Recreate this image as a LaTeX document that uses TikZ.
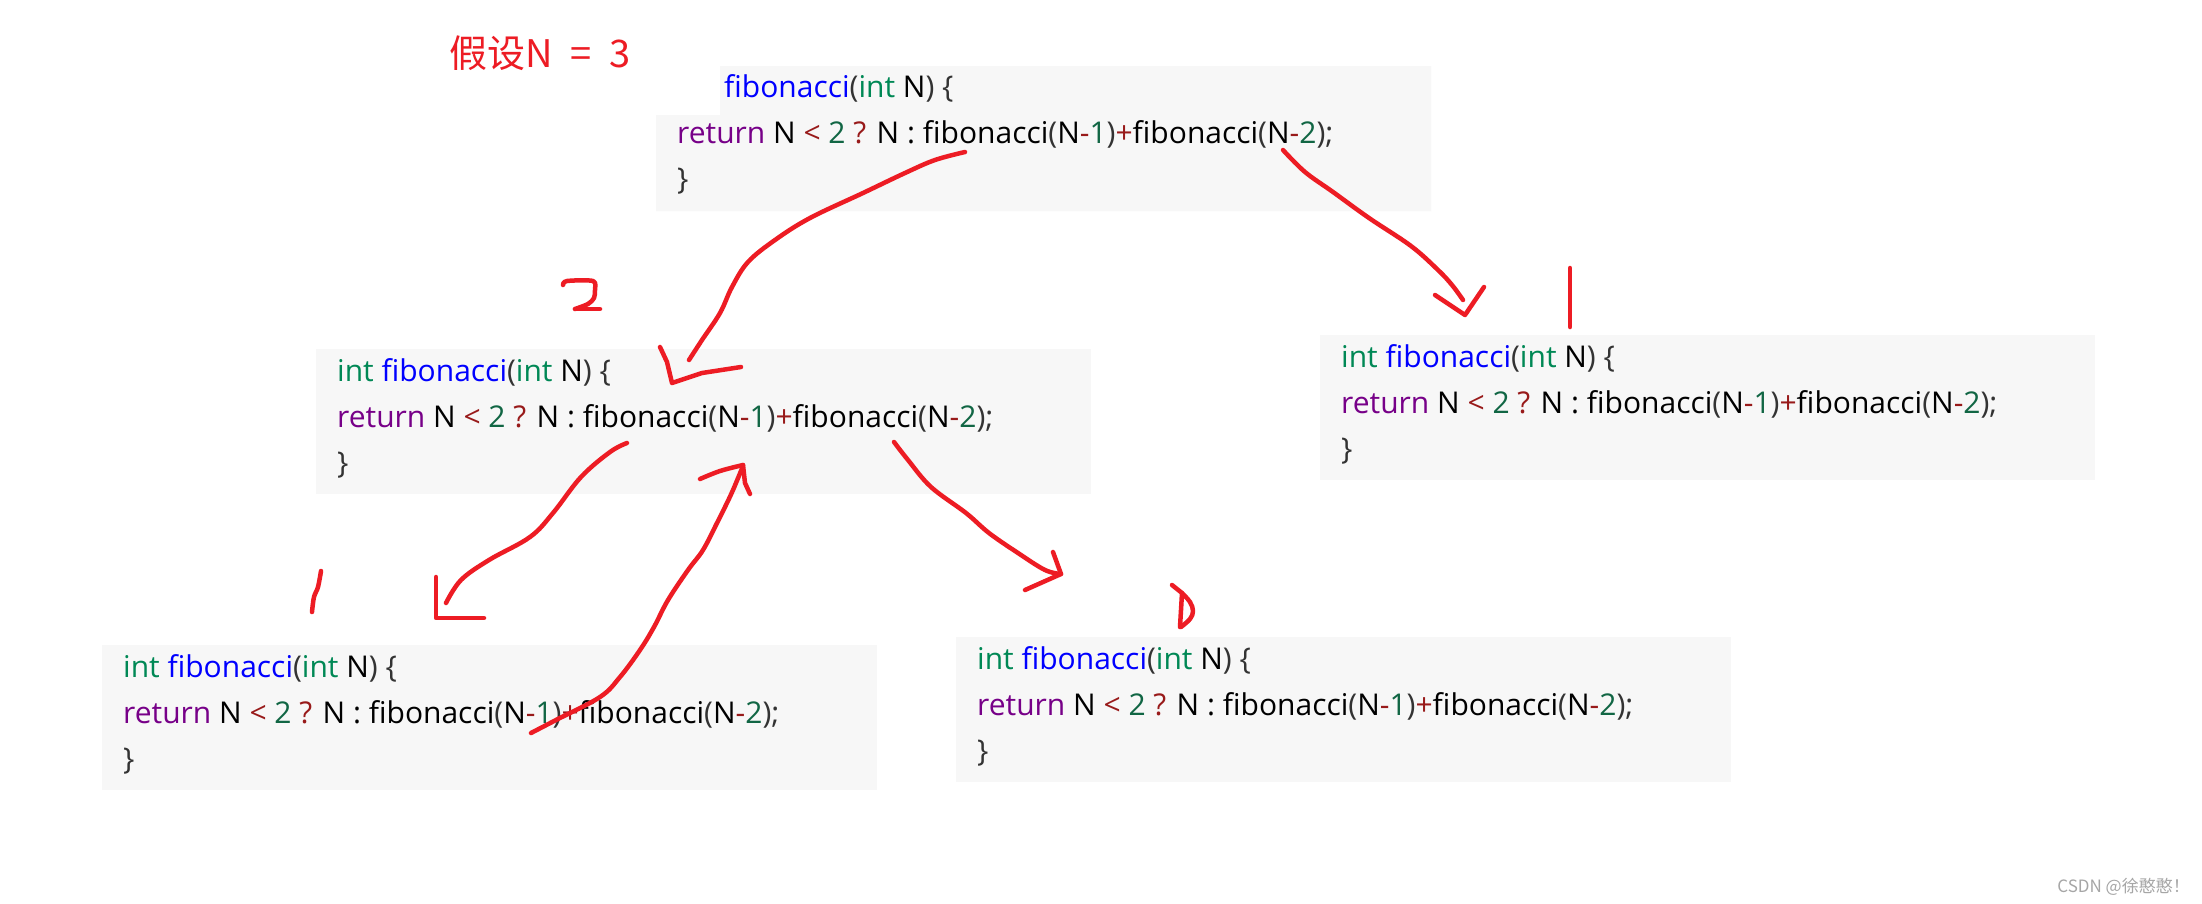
\documentclass[tikz,border=0pt]{standalone}
\usepackage{fontspec}
\setmainfont{Open Sans}
\newfontfamily\cjk{Noto Sans CJK SC}
\usepackage{tikz}
\definecolor{codebg}{RGB}{247,247,247}
\definecolor{typegreen}{RGB}{0,136,85}
\definecolor{defblue}{RGB}{0,0,255}
\definecolor{kwpurple}{RGB}{119,0,136}
\definecolor{oprred}{RGB}{152,26,26}
\definecolor{numgreen}{RGB}{17,102,68}
\definecolor{brk}{RGB}{51,51,51}
\definecolor{penred}{RGB}{237,28,36}
\newcommand{\fibdecl}{\textcolor{typegreen}{int} \textcolor{defblue}{fibonacci}\textcolor{brk}{(}\textcolor{typegreen}{int} N\textcolor{brk}{) \{}}
\newcommand{\fibret}{\textcolor{kwpurple}{return} N \textcolor{oprred}{<} \textcolor{numgreen}{2} \textcolor{oprred}{?} N : fibonacci\textcolor{brk}{(}N\textcolor{oprred}{-}\textcolor{numgreen}{1}\textcolor{brk}{)}\textcolor{oprred}{+}fibonacci\textcolor{brk}{(}N\textcolor{oprred}{-}\textcolor{numgreen}{2}\textcolor{brk}{);}}
\tikzset{redpen/.style={draw=penred,line width=4.5pt,line cap=round,line join=round},
codeline/.style={anchor=base west,inner sep=0pt,font=\fontsize{30}{36}\selectfont}}

\begin{document}
\begin{tikzpicture}[x=1pt,y=-1pt]
\useasboundingbox (0,0) rectangle (2202,903);
\fill[white](0,0) rectangle (2202,903);
\node[anchor=base west,inner sep=0pt,text=penred,font=\cjk\fontsize{38}{38}\selectfont] (title) at (449,67) {假设N\hspace{18pt}=\hspace{18pt}3};
% top call
\fill[codebg] (720,66)--(1431,66)--(1431,211)--(656,211)--(656,115)--(720,115)--cycle;
\node[codeline] (topdecl) at (724,97) {\textcolor{defblue}{fibonacci}\textcolor{brk}{(}\textcolor{typegreen}{int} N\textcolor{brk}{) \{}};
\node[codeline] (topret) at (677,143) {\fibret};
\node[codeline] (topend) at (677,189) {\textcolor{brk}{\}}};
% the other calls
\foreach \bx/\by/\bn in {316/349/two,1320/335/three,102/645/four,956/637/five}{
\fill[codebg] (\bx,\by) rectangle +(775,145);
\node[codeline] (\bn decl) at (\bx+21,\by+32) {\fibdecl};
\node[codeline] (\bn ret) at (\bx+21,\by+78) {\fibret};
\node[codeline] (\bn end) at (\bx+21,\by+124) {\textcolor{brk}{\}}};
}
% hand drawn arrows
\draw[redpen] plot[smooth,tension=0.6] coordinates {(965,152)(935,160)(905,173)(863,193)(810,218)(775,240)(748,262)(732,287)(720,313)(702,340)(689,360)};
\draw[redpen] (660,347)--(667,362)--(672,383)--(702,373)--(741,367);
\draw[redpen] plot[smooth,tension=0.6] coordinates {(1283,150)(1305,172)(1333,192)(1369,218)(1411,246)(1438,270)(1452,285)(1463,300)};
\draw[redpen] (1435,295)--(1465,315)--(1484,287);
\draw[redpen] plot[smooth,tension=0.6] coordinates {(627,443)(610,452)(581,477)(553,513)(530,537)(489,560)(461,580)(446,603)};
\draw[redpen] (436,577)--(436,618)--(484,618);
\draw[redpen] plot[smooth,tension=0.6] coordinates {(531,733)(556,720)(600,697)(620,677)(640,650)(654,627)(668,600)(688,570)(703,550)(717,523)(725,507)(733,490)(743,466)};
\draw[redpen] plot[smooth,tension=0.6] coordinates {(700,479)(720,471)(743,465)};
\draw[redpen] (743,465)--(745,483)--(750,494);
\draw[redpen] plot[smooth,tension=0.6] coordinates {(894,442)(908,460)(931,487)(966,513)(989,533)(1018,553)(1045,570)(1061,574)};
\draw[redpen] (1053,552)--(1061,574)--(1025,590);
% numbers
\draw[redpen] (1570,268)--(1570,327);
\draw[redpen] plot[smooth,tension=0.5] coordinates {(563,285)(567,281)(593,281)(595,290)(594,298)(588,304)(575,309)};
\draw[redpen] (575,309)--(600,309);
\draw[redpen] plot[smooth,tension=0.6] coordinates {(321,571)(318,587)(314,597)(312,612)};
\draw[redpen] (1172,585)--(1182,593)--(1180,627);
\draw[redpen] plot[smooth,tension=0.6] coordinates {(1182,593)(1190,602)(1193,611)(1190,619)(1181,627)};
\node[anchor=base east,inner sep=0pt,text=gray!70,font=\cjk\fontsize{17}{17}\selectfont] (mark) at (2190,892) {CSDN @徐憨憨！};
\end{tikzpicture}
\end{document}
